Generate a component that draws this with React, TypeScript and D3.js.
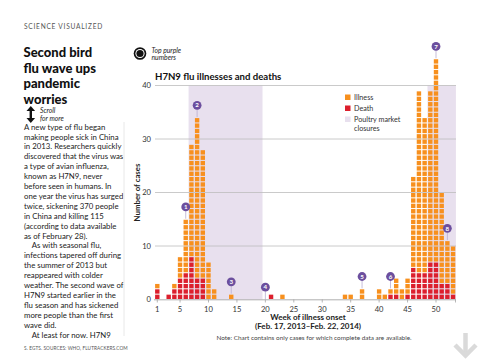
import React from "react";
import * as d3 from "d3";

const weeks = [1, 3, 4, 5, 6, 7, 8, 9, 10, 11, 14, 21, 23, 34, 35, 37, 40, 41, 42, 43, 44, 45, 46, 47, 48, 49, 50, 51, 52, 53];
const cases = [3, 1, 3, 8, 15, 29, 34, 28, 7, 2, 1, 1, 1, 1, 1, 2, 2, 1, 2, 4, 2, 4, 23, 39, 34, 39, 45, 20, 11, 10];
const deaths = [2, 1, 2, 4, 5, 8, 4, 4, 0, 0, 0, 1, 0, 0, 0, 0, 0, 0, 1, 1, 0, 1, 6, 5, 5, 7, 7, 3, 3, 1];
const closureStart = [6.5, 48.5];
const closureEnd = [19.5, 53.5];
const labelNums = [1, 2, 3, 4, 5, 6, 7, 8];
const labelWeeks = [6, 8, 14, 20, 37, 42, 50, 52];
const xTicks = [1, 5, 10, 15, 20, 25, 30, 35, 40, 45, 50];
const yTicks = [0, 10, 20, 30, 40];

const bodyLines = [
  "A new type of flu began",
  "making people sick in China",
  "in 2013. Researchers quickly",
  "discovered that the virus was",
  "a type of avian influenza,",
  "known as H7N9, never",
  "before seen in humans. In",
  "one year the virus has surged",
  "twice, sickening 370 people",
  "in China and killing 115",
  "(according to data available",
  "as of February 28).",
  "\u00a0\u00a0\u00a0\u00a0As with seasonal flu,",
  "infections tapered off during",
  "the summer of 2013 but",
  "reappeared with colder",
  "weather. The second wave of",
  "H7N9 started earlier in the",
  "flu season and has sickened",
  "more people than the first",
  "wave did.",
  "\u00a0\u00a0\u00a0\u00a0At least for now. H7N9",
];
const headline = ["Second bird", "flu wave ups", "pandemic", "worries"];

const ORANGE = "#f7901e";
const RED = "#dc1f2d";
const BAND = "#e8e0ee";
const PURPLE = "#6c4f9e";
const FONT = "Lato, 'Open Sans', sans-serif";

export default function App() {
  const x = d3.scaleLinear().domain([1, 50]).range([157.3, 436]);
  const y = d3.scaleLinear().domain([0, 40]).range([299.5, 85.5]);
  const sqW = 4.4;

  const squares: any[] = [];
  weeks.forEach((w, wi) => {
    for (let i = 0; i < cases[wi]; i++) {
      const y0 = y(i);
      const y1 = y(i + 1);
      squares.push(
        <rect
          key={`s${w}-${i}`}
          x={x(w) - sqW / 2}
          y={y1 + 0.5}
          width={sqW}
          height={y0 - y1 - 1}
          fill={i < deaths[wi] ? RED : ORANGE}
        />
      );
    }
  });

  const countFor = (w: number) => {
    const idx = weeks.indexOf(w);
    return idx >= 0 ? cases[idx] : 0;
  };

  return (
    <svg width={480} height={360} style={{ position: "absolute", left: 0, top: 0, background: "#fff" }} fontFamily={FONT}>
      <rect x={0} y={0} width={480} height={360} fill="#fff" />
      {/* left column */}
      <text x={24} y={29} fontSize={6.6} fill="#555" letterSpacing={0.75}>SCIENCE VISUALIZED</text>
      {headline.map((l, i) => (
        <text key={l} x={23.5} y={57 + i * 15.7} fontSize={13} fontWeight={900} fill="#111">{l}</text>
      ))}
      {/* scroll icon */}
      <g fill="#111">
        <rect x={29.6} y={108.5} width={2.4} height={12} />
        <path d="M26.5,111 L30.8,106 L35.1,111 Z" />
        <path d="M26.5,118 L30.8,123 L35.1,118 Z" />
      </g>
      <text x={40} y={113} fontSize={6.8} fontStyle="italic" fill="#222">
        <tspan x={40}>Scroll</tspan>
        <tspan x={40} dy={7.5}>for more</tspan>
      </text>
      {bodyLines.map((l, i) => (
        <text key={i} x={24} y={129.6 + i * 9.9} fontSize={7.8} fill="#222">{l}</text>
      ))}
      <text x={24} y={349.5} fontSize={4.7} fill="#555" letterSpacing={0.1}>S. EGTS. SOURCES: WHO, FLUTRACKERS.COM</text>
      <line x1={124} x2={124} y1={122} y2={336} stroke="#e2e2e2" strokeWidth={0.8} />

      {/* top purple numbers icon */}
      <circle cx={140} cy={53.5} r={6.3} fill="#111" />
      <circle cx={140} cy={53.5} r={4.6} fill="#fff" />
      <circle cx={140} cy={53.5} r={3.6} fill="#111" />
      <text x={151.5} y={52.5} fontSize={6.8} fontStyle="italic" fill="#222">
        <tspan x={151.5}>Top purple</tspan>
        <tspan x={151.5} dy={7.5}>numbers</tspan>
      </text>

      <text x={155} y={79.5} fontSize={9.6} fontWeight={700} fill="#111">H7N9 flu illnesses and deaths</text>

      {/* closure bands */}
      {closureStart.map((s, i) => (
        <rect key={`b${i}`} x={x(s)} y={y(40)} width={Math.min(x(closureEnd[i]), 456) - x(s)} height={y(0) - y(40)} fill={BAND} />
      ))}

      {/* grid */}
      {yTicks.filter((t) => t > 0).map((t) => (
        <line key={`g${t}`} x1={155} x2={456} y1={y(t)} y2={y(t)} stroke="#bdbdbd" strokeWidth={0.8} />
      ))}
      {yTicks.map((t) => (
        <text key={`yt${t}`} x={151} y={y(t) + 2.8} fontSize={7.6} textAnchor="end" fill="#333">{t}</text>
      ))}
      <text transform={`translate(139.5,${y(20)}) rotate(-90)`} textAnchor="middle" fontSize={7.8} fontWeight={700} fill="#222">Number of cases</text>

      {/* x axis */}
      <line x1={154} x2={456} y1={y(0) + 0.3} y2={y(0) + 0.3} stroke="#9a9a9a" strokeWidth={0.8} />
      {xTicks.map((t) => (
        <line key={`xt${t}`} x1={x(t)} x2={x(t)} y1={y(0)} y2={y(0) + 3} stroke="#9a9a9a" strokeWidth={0.7} />
      ))}
      <line x1={455.5} x2={455.5} y1={y(0)} y2={y(0) + 3} stroke="#9a9a9a" strokeWidth={0.7} />
      {xTicks.map((t) => (
        <text key={`xl${t}`} x={x(t)} y={311.5} fontSize={7.6} textAnchor="middle" fill="#333">{t}</text>
      ))}
      <text x={308} y={320} fontSize={8} fontWeight={700} textAnchor="middle" fill="#222">Week of illness onset</text>
      <text x={308} y={329} fontSize={8} fontWeight={700} textAnchor="middle" fill="#222">(Feb. 17, 2013–Feb. 22, 2014)</text>
      <text x={314} y={339.5} fontSize={6.4} textAnchor="middle" fill="#444">Note: Chart contains only cases for which complete data are available.</text>

      {/* squares */}
      {squares}

      {/* labels */}
      {labelNums.map((n, i) => {
        const w = labelWeeks[i];
        const c = countFor(w);
        const cy = y(c + 2.3);
        return (
          <g key={`l${n}`}>
            <line x1={x(w)} x2={x(w)} y1={cy + 4} y2={y(c) - 0.5} stroke="#b9acd0" strokeWidth={0.8} />
            <circle cx={x(w)} cy={cy} r={4.4} fill={PURPLE} />
            <text x={x(w)} y={cy + 2.2} fontSize={6.2} fontWeight={700} textAnchor="middle" fill="#fff">{n}</text>
          </g>
        );
      })}

      {/* legend */}
      <rect x={345} y={94.5} width={5.5} height={5.5} fill={ORANGE} />
      <text x={354} y={100} fontSize={7.2} fill="#333">Illness</text>
      <rect x={345} y={105.5} width={5.5} height={5.5} fill={RED} />
      <text x={354} y={111} fontSize={7.2} fill="#333">Death</text>
      <rect x={345} y={116.5} width={5.5} height={5.5} fill={BAND} />
      <text x={354} y={122} fontSize={7.2} fill="#333">
        <tspan x={354}>Poultry market</tspan>
        <tspan x={354} dy={8.5}>closures</tspan>
      </text>

      {/* down arrow */}
      <g stroke="#dadada" strokeWidth={4.5} fill="none">
        <line x1={465.5} x2={465.5} y1={333} y2={355} />
        <polyline points="455,345 465.5,355.5 476,345" />
      </g>
    </svg>
  );
}
